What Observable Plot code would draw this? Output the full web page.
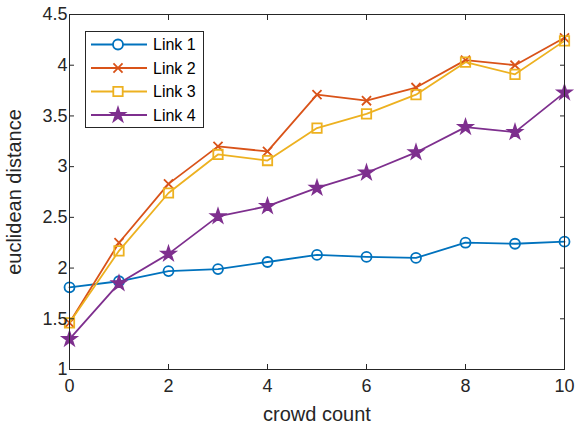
<!DOCTYPE html>
<html>
<head>
<meta charset="utf-8">
<script src="https://cdn.jsdelivr.net/npm/d3@7"></script>
<script src="https://cdn.jsdelivr.net/npm/@observablehq/plot@0.6"></script>
<style>
  html, body { margin: 0; padding: 0; background: #fff; }
  #wrap { position: relative; width: 576px; height: 430px; }
  #legend { position: absolute; left: 85px; top: 31px; }
  #wrap g[aria-label="x-axis tick label"], #wrap g[aria-label="y-axis tick label"] { font-size: 18px; }
  #wrap g[aria-label="x-axis label"], #wrap g[aria-label="y-axis label"] { font-size: 20px; }
</style>
</head>
<body>
<div id="wrap"></div>
<script>
const crowd = [0, 1, 2, 3, 4, 5, 6, 7, 8, 9, 10];
const link1 = [1.81, 1.87, 1.97, 1.99, 2.06, 2.13, 2.11, 2.10, 2.25, 2.24, 2.26];
const link2 = [1.46, 2.25, 2.83, 3.20, 3.15, 3.71, 3.65, 3.78, 4.05, 4.00, 4.27];
const link3 = [1.46, 2.17, 2.74, 3.12, 3.06, 3.38, 3.52, 3.71, 4.03, 3.91, 4.24];
const link4 = [1.30, 1.85, 2.14, 2.51, 2.61, 2.79, 2.94, 3.14, 3.39, 3.34, 3.73];
const seriesNames = ["Link 1", "Link 2", "Link 3", "Link 4"];
const xTicks = [0, 2, 4, 6, 8, 10];
const yTicks = [1, 1.5, 2, 2.5, 3, 3.5, 4, 4.5];

const colors = ["#0072BD", "#D95319", "#EDB120", "#7E2F8E"];
const symbols = ["circle", "times", "square", "star"];
const radii = [5, 4.2, 5.3, 4.3];
const fills = ["none", "none", "none", null];
const allValues = [link1, link2, link3, link4];

const series = allValues.map((vals, i) => crowd.map((c, j) => ({x: c, y: vals[j], name: seriesNames[i]})));

const marks = [];
series.forEach((data, i) => {
  marks.push(Plot.line(data, {x: "x", y: "y", stroke: colors[i], strokeWidth: 1.8}));
  marks.push(Plot.dot(data, {
    x: "x", y: "y", symbol: () => symbols[i], r: radii[i],
    stroke: colors[i], strokeWidth: 1.8,
    fill: fills[i] === null ? colors[i] : "none"
  }));
});

const fmt = d3.format("~g");
const chart = Plot.plot({
  width: 576,
  height: 430,
  marginLeft: 69,
  marginRight: 12,
  marginTop: 14,
  marginBottom: 61,
  style: {fontFamily: "'Liberation Sans', Arial, sans-serif", fontSize: "18px", color: "#262626", background: "#fff"},
  x: {domain: [0, 10]},
  y: {domain: [1, 4.5]},
  symbol: {type: "identity"},
  marks: [
    ...marks,
    Plot.frame({stroke: "#262626", strokeWidth: 1}),
    Plot.axisX(xTicks, {anchor: "bottom", tickSize: -5, tickPadding: 15, tickFormat: fmt, label: "crowd count", labelAnchor: "center", labelArrow: "none", labelOffset: 51, stroke: "#262626"}),
    Plot.axisX(xTicks, {anchor: "top", tickSize: -5, tickFormat: () => "", label: null, stroke: "#262626"}),
    Plot.axisY(yTicks, {anchor: "left", tickSize: -5, tickPadding: 7, tickFormat: fmt, label: "euclidean distance", labelAnchor: "center", labelArrow: "none", labelOffset: 63, stroke: "#262626"}),
    Plot.axisY(yTicks, {anchor: "right", tickSize: -5, tickFormat: () => "", label: null, stroke: "#262626"})
  ]
});
document.getElementById("wrap").appendChild(chart);

// Legend overlay
const lw = 119, lh = 97;
const legend = d3.select("#wrap").append("svg").attr("id", "legend")
  .attr("width", lw).attr("height", lh);
legend.append("rect").attr("x", 0.5).attr("y", 0.5).attr("width", lw - 1).attr("height", lh - 1)
  .attr("fill", "#fff").attr("stroke", "#262626").attr("stroke-width", 1);
const d3sym = {circle: d3.symbolCircle, times: d3.symbolTimes, square: d3.symbolSquare, star: d3.symbolStar};
seriesNames.forEach((name, i) => {
  const cy = 13.5 + i * 23.5;
  const g = legend.append("g");
  g.append("line").attr("x1", 6).attr("x2", 62).attr("y1", cy).attr("y2", cy)
    .attr("stroke", colors[i]).attr("stroke-width", 1.8);
  g.append("path").attr("transform", `translate(33,${cy})`)
    .attr("d", d3.symbol(d3sym[symbols[i]], Math.PI * radii[i] * radii[i])())
    .attr("stroke", colors[i]).attr("stroke-width", 1.8)
    .attr("fill", fills[i] === null ? colors[i] : "#fff");
  g.append("text").attr("x", 68).attr("y", cy).attr("dy", "0.35em")
    .attr("font-family", "'Liberation Sans', Arial, sans-serif").attr("font-size", 16)
    .attr("fill", "#000").text(name);
});
</script>
</body>
</html>
